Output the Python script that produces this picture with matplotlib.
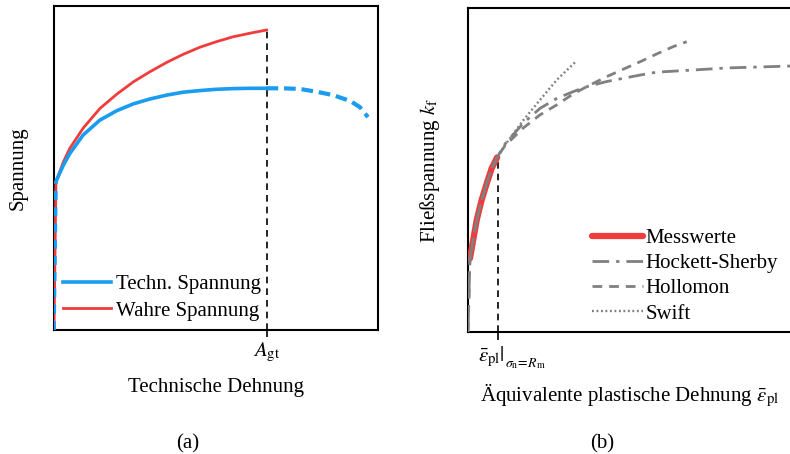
import numpy as np
import matplotlib
matplotlib.use("Agg")
import matplotlib.pyplot as plt
import matplotlib.transforms as mtransforms

plt.rcParams['font.family'] = ['Liberation Serif', 'DejaVu Serif']
plt.rcParams['mathtext.fontset'] = 'stix'
plt.rcParams['font.size'] = 15

# (a) normalised strain / stress
tech_x = [0.0, 0.006, 0.029, 0.049, 0.090, 0.142, 0.194, 0.245, 0.296, 0.348,
          0.399, 0.451, 0.502, 0.553, 0.605, 0.656]
tech_y = [0.0, 0.458, 0.509, 0.545, 0.602, 0.648, 0.677, 0.698, 0.713, 0.725,
          0.734, 0.739, 0.743, 0.745, 0.746, 0.746]
neck_x = [0.656, 0.707, 0.759, 0.812, 0.861, 0.914, 0.944, 0.969]
neck_y = [0.746, 0.746, 0.744, 0.735, 0.725, 0.707, 0.688, 0.657]
true_x = [0.0, 0.006, 0.029, 0.049, 0.090, 0.142, 0.194, 0.245, 0.296, 0.348,
          0.399, 0.451, 0.502, 0.553, 0.605, 0.656]
true_y = [0.0, 0.458, 0.519, 0.561, 0.623, 0.684, 0.728, 0.766, 0.797, 0.826,
          0.851, 0.873, 0.890, 0.905, 0.916, 0.926]
A_gt = 0.656

# (b) flow curve and extrapolations
mess_x = [0.006, 0.016, 0.027, 0.042, 0.058, 0.073, 0.090]
mess_y = [0.227, 0.284, 0.346, 0.407, 0.459, 0.505, 0.539]
hs_x = [0.0, 0.006, 0.016, 0.027, 0.042, 0.058, 0.073, 0.090, 0.114, 0.171,
        0.222, 0.274, 0.325, 0.366, 0.428, 0.479, 0.531, 0.582, 0.685, 0.800,
        0.900, 1.0]
hs_y = [0.0, 0.227, 0.284, 0.346, 0.407, 0.459, 0.505, 0.539, 0.580, 0.645,
        0.690, 0.721, 0.742, 0.757, 0.773, 0.783, 0.793, 0.802, 0.808, 0.815,
        0.818, 0.821]
hol_x = [0.0, 0.006, 0.016, 0.027, 0.042, 0.058, 0.073, 0.090, 0.114, 0.171,
         0.222, 0.274, 0.325, 0.366, 0.428, 0.479, 0.531, 0.582, 0.634, 0.675]
hol_y = [0.0, 0.227, 0.284, 0.346, 0.407, 0.459, 0.505, 0.539, 0.575, 0.630,
         0.670, 0.701, 0.735, 0.757, 0.788, 0.811, 0.834, 0.858, 0.881, 0.896]
swift_x = [0.090, 0.114, 0.171, 0.222, 0.274, 0.330]
swift_y = [0.539, 0.577, 0.654, 0.716, 0.778, 0.832]
eps_Rm = 0.092

blue = '#1A9CF0'
red = '#F03C3C'
gray = '#808080'

fig = plt.figure(figsize=(7.9, 4.54), dpi=100)
ax1 = fig.add_axes([54/790, 1-330/454, 324/790, 324/454])
ax2 = fig.add_axes([468/790, 1-332/454, 324/790, 324/454])

# ---- (a)
l_true, = ax1.plot(true_x, true_y, color=red, lw=2.0, zorder=3)
ax1.plot(tech_x[:2], tech_y[:2], color=blue, lw=2.6, ls=(0, (2.5, 2.0)), zorder=4)
l_tech, = ax1.plot(tech_x[1:], tech_y[1:], color=blue, lw=2.6, zorder=4)
ax1.plot(neck_x, neck_y, color=blue, lw=3.0, ls=(0, (2.8, 1.4)), zorder=4)
ax1.plot([A_gt, A_gt], [0, true_y[-1]], color='black', lw=1.2, ls=(0, (4, 3)), zorder=2)
ax1.legend([l_tech, l_true], ['Techn. Spannung', 'Wahre Spannung'],
           loc='lower left', bbox_to_anchor=(0.0, 0.0), frameon=False,
           handlelength=2.3, handletextpad=0.25, labelspacing=0.34,
           borderaxespad=0.05, fontsize=15)
ax1.set_xlim(0, 1)
ax1.set_ylim(0, 1)
ax1.set_xticks([A_gt])
ax1.set_xticklabels([r'$A_{\mathrm{gt}}$'])
ax1.set_yticks([])
ax1.tick_params(axis='x', direction='out', length=5, width=1.2, pad=3, labelsize=15)
ax1.set_xlabel('Technische Dehnung', fontsize=15, labelpad=10)
ax1.set_ylabel('Spannung', fontsize=15, labelpad=19)
for s in ax1.spines.values():
    s.set_linewidth(1.5)

# ---- (b)
l_m, = ax2.plot(mess_x, mess_y, color=red, lw=4.5, solid_capstyle='round', zorder=3)
l_hs, = ax2.plot(hs_x, hs_y, color=gray, lw=2.0, ls=(0, (6, 2.5, 1.2, 2.5)), zorder=4)
l_ho, = ax2.plot(hol_x, hol_y, color=gray, lw=2.0, ls=(0, (3.5, 2.5)), zorder=4)
l_sw, = ax2.plot(swift_x, swift_y, color=gray, lw=1.7, ls=(0, (0.8, 1.1)), zorder=4)
ax2.plot([eps_Rm, eps_Rm], [0, mess_y[-1]], color='black', lw=1.2, ls=(0, (4, 3)), zorder=2)
ax2.legend([l_m, l_hs, l_ho, l_sw], ['Messwerte', 'Hockett-Sherby', 'Hollomon', 'Swift'],
           loc='lower left', bbox_to_anchor=(0.358, 0.0), frameon=False,
           handlelength=2.45, handletextpad=0.1, labelspacing=0.27,
           borderaxespad=0.0, fontsize=15)
ax2.set_xlim(0, 1)
ax2.set_ylim(0, 1)
ax2.set_xticks([eps_Rm])
ax2.set_xticklabels([''])
ax2.set_yticks([])
ax2.tick_params(axis='x', direction='out', length=6, width=1.2, pad=3)
trans = mtransforms.blended_transform_factory(ax2.transData, ax2.transAxes)
ax2.text(eps_Rm + 0.021, -0.077, r'$\bar{\varepsilon}_{\mathrm{pl}}|$', transform=trans,
         ha='right', va='center', fontsize=15)
ax2.text(eps_Rm + 0.023, -0.096, r'$\sigma_{\mathrm{n}}\!=\!R_{\mathrm{m}}$', transform=trans,
         ha='left', va='center', fontsize=10)
ax2.set_xlabel(r'Äquivalente plastische Dehnung $\bar{\varepsilon}_{\mathrm{pl}}$',
               fontsize=15, labelpad=27)
ax2.set_ylabel(r'Fließspannung $k_{\mathrm{f}}$', fontsize=15, labelpad=19)
for s in ax2.spines.values():
    s.set_linewidth(1.5)

fig.text(188/790, 1-444/454, '(a)', ha='center', va='center', fontsize=15)
fig.text(602/790, 1-444/454, '(b)', ha='center', va='center', fontsize=15)

fig.savefig('out.png', dpi=100)
